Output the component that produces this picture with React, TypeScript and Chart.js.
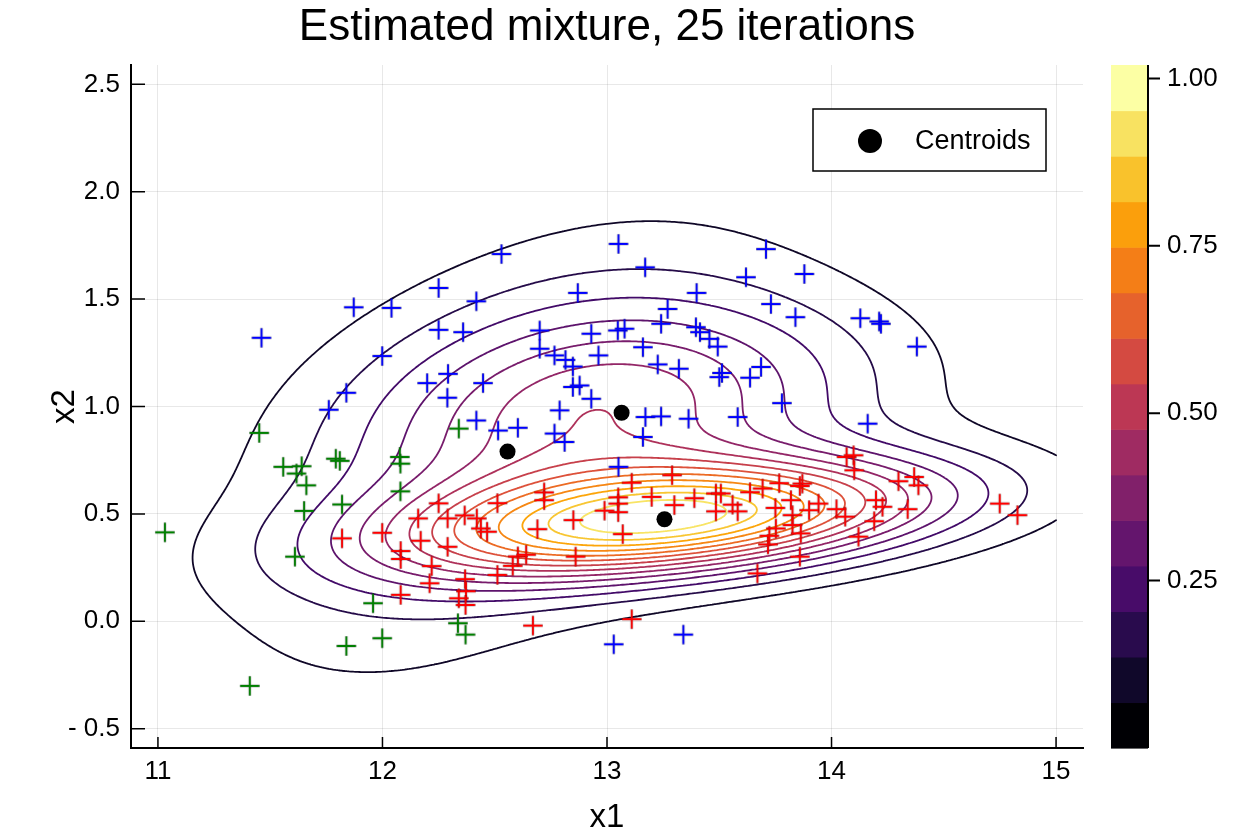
import React, { useEffect, useRef } from "react";
import { Chart, registerables } from "chart.js";

Chart.register(...registerables);

const FONT = '"Liberation Sans", Arial, Helvetica, sans-serif';

const titleText = "Estimated mixture, 25 iterations";
const xTitle = "x1";
const yTitle = "x2";
const legendLabel = "Centroids";

// axis ticks
const xTickValues = [11, 12, 13, 14, 15];
const yTickValues = [-0.5, 0, 0.5, 1.0, 1.5, 2.0, 2.5];
const colorbarTickValues = [0.25, 0.5, 0.75, 1.0];

// observations, grouped by class
const greenX = [11.031, 11.409, 11.451, 11.558, 11.640, 11.617, 11.661, 11.651, 11.610, 11.792, 11.810, 11.820, 11.958, 11.839, 11.999, 12.077, 12.080, 12.080, 12.336, 12.370, 12.340];
const greenY = [0.414, -0.301, 0.877, 0.719, 0.722, 0.688, 0.633, 0.514, 0.301, 0.757, 0.747, 0.544, 0.084, -0.115, -0.079, 0.765, 0.734, 0.605, -0.009, -0.062, 0.897];

const blueX = [11.461, 11.872, 12.040, 12.250, 12.418, 12.250, 12.359, 11.999, 12.292, 12.199, 12.448, 12.289, 11.839, 11.761, 12.418, 12.515, 12.530, 13.051, 13.170, 13.619, 12.870, 13.399, 13.270, 12.700, 12.930, 13.048, 13.078, 13.241, 13.396, 13.414, 13.456, 13.493, 12.700, 12.766, 12.815, 12.848, 12.962, 13.160, 13.226, 13.320, 13.512, 13.500, 13.637, 13.686, 12.848, 12.878, 12.930, 12.789, 12.603, 12.766, 12.811, 13.171, 13.241, 13.363, 13.582, 13.160, 13.051, 13.708, 13.879, 13.730, 13.839, 14.128, 14.212, 14.220, 14.380, 13.779, 14.161, 13.030, 13.340];
const blueY = [1.320, 1.462, 1.459, 1.552, 1.490, 1.357, 1.346, 1.235, 1.152, 1.109, 1.109, 1.041, 1.064, 0.985, 0.935, 0.888, 1.710, 1.757, 1.648, 1.602, 1.529, 1.529, 1.454, 1.354, 1.339, 1.354, 1.362, 1.385, 1.369, 1.346, 1.315, 1.279, 1.269, 1.238, 1.217, 1.186, 1.238, 1.276, 1.196, 1.176, 1.156, 1.137, 1.134, 1.184, 1.091, 1.098, 1.036, 0.982, 0.901, 0.874, 0.835, 0.951, 0.954, 0.943, 0.951, 0.858, 0.719, 1.733, 1.617, 1.477, 1.416, 1.411, 1.396, 1.385, 1.279, 1.016, 0.920, -0.107, -0.062];

const redX = [11.820, 11.999, 12.081, 12.081, 12.081, 12.159, 12.250, 12.290, 12.170, 12.290, 12.219, 12.210, 12.366, 12.420, 12.438, 12.466, 12.368, 12.372, 12.340, 12.370, 12.512, 12.512, 12.580, 12.603, 12.640, 12.720, 12.720, 12.690, 12.850, 12.860, 12.670, 13.110, 13.290, 13.050, 13.050, 13.050, 12.989, 13.199, 13.300, 13.070, 13.389, 13.485, 13.507, 13.485, 13.559, 13.582, 13.637, 13.693, 13.767, 13.750, 13.717, 13.670, 13.110, 14.067, 14.098, 14.101, 14.298, 14.368, 14.387, 14.339, 14.198, 14.227, 14.190, 14.120, 14.749, 14.828, 14.022, 14.061, 13.942, 13.900, 13.870, 13.859, 13.819, 13.826, 13.826, 13.863, 13.752, 13.723, 13.859];
const redY = [0.386, 0.412, 0.327, 0.290, 0.123, 0.479, 0.549, 0.479, 0.375, 0.347, 0.257, 0.177, 0.493, 0.479, 0.432, 0.417, 0.196, 0.140, 0.107, 0.076, 0.550, 0.216, 0.258, 0.302, 0.310, 0.600, 0.564, 0.429, 0.471, 0.301, -0.020, 0.645, 0.680, 0.577, 0.548, 0.508, 0.515, 0.579, 0.541, 0.406, 0.573, 0.595, 0.595, 0.512, 0.543, 0.512, 0.601, 0.618, 0.643, 0.528, 0.358, 0.223, 0.010, 0.765, 0.773, 0.703, 0.652, 0.672, 0.633, 0.522, 0.564, 0.533, 0.466, 0.394, 0.548, 0.494, 0.522, 0.487, 0.548, 0.517, 0.641, 0.630, 0.564, 0.494, 0.448, 0.409, 0.432, 0.398, 0.301];

// estimated centroids
const centroidX = [12.557, 13.065, 13.256];
const centroidY = [0.790, 0.971, 0.475];

// Gaussian components of the density surface
const compMeanX = [12.521, 13.162, 13.319];
const compMeanY = [0.782, 1.013, 0.477];
const compSdX = [0.793, 0.744, 0.796];
const compSdY = [0.691, 0.326, 0.183];
const compRho = [0.506, 0.193, 0.352];
const compPeak = [0.200, 0.310, 0.876];

// evaluation grid and colour range
const gridX0 = 11, gridX1 = 15, gridY0 = -0.5, gridY1 = 2.5, gridStep = 0.01;
const zMax = 1.02;
const nBands = 15;
const levelStep = zMax / nBands;

// inferno colour map stops
const infernoStops = ["#000004", "#160b39", "#420a68", "#6a176e", "#932667", "#bc3754", "#dd513a", "#f37819", "#fca50a", "#f6d746", "#fcffa4"];

function hexToRgb(h: string) {
  return [parseInt(h.slice(1, 3), 16), parseInt(h.slice(3, 5), 16), parseInt(h.slice(5, 7), 16)];
}

function inferno(t: number) {
  const tt = Math.max(0, Math.min(1, t)) * (infernoStops.length - 1);
  const i = Math.min(infernoStops.length - 2, Math.floor(tt));
  const f = tt - i;
  const a = hexToRgb(infernoStops[i]);
  const b = hexToRgb(infernoStops[i + 1]);
  const c = a.map((v, k) => Math.round(v + (b[k] - v) * f));
  return `rgb(${c[0]},${c[1]},${c[2]})`;
}

function mixtureDensity(x: number, y: number) {
  let s = 0;
  for (let k = 0; k < compMeanX.length; k++) {
    const zx = (x - compMeanX[k]) / compSdX[k];
    const zy = (y - compMeanY[k]) / compSdY[k];
    const r = compRho[k];
    const q = (zx * zx - 2 * r * zx * zy + zy * zy) / (1 - r * r);
    s += compPeak[k] * Math.exp(-q / 2);
  }
  return s;
}

const contourLevels: number[] = [];
for (let k = 1; k < nBands; k++) contourLevels.push(k * levelStep);

// marching squares: line segments [x0, y0, x1, y1, ...] for each level
function buildContours(): number[][] {
  const nx = Math.round((gridX1 - gridX0) / gridStep) + 1;
  const ny = Math.round((gridY1 - gridY0) / gridStep) + 1;
  const z = new Float64Array(nx * ny);
  for (let j = 0; j < ny; j++) {
    for (let i = 0; i < nx; i++) {
      z[j * nx + i] = mixtureDensity(gridX0 + i * gridStep, gridY0 + j * gridStep);
    }
  }
  const out: number[][] = [];
  for (const L of contourLevels) {
    const seg: number[] = [];
    for (let j = 0; j < ny - 1; j++) {
      for (let i = 0; i < nx - 1; i++) {
        const v00 = z[j * nx + i];
        const v10 = z[j * nx + i + 1];
        const v01 = z[(j + 1) * nx + i];
        const v11 = z[(j + 1) * nx + i + 1];
        const idx = (v00 > L ? 1 : 0) | (v10 > L ? 2 : 0) | (v11 > L ? 4 : 0) | (v01 > L ? 8 : 0);
        if (idx === 0 || idx === 15) continue;
        const x0 = gridX0 + i * gridStep;
        const y0 = gridY0 + j * gridStep;
        const x1 = x0 + gridStep;
        const y1 = y0 + gridStep;
        const edge = (k: number): [number, number] => {
          switch (k) {
            case 0: return [x0 + (gridStep * (L - v00)) / (v10 - v00), y0];
            case 1: return [x1, y0 + (gridStep * (L - v10)) / (v11 - v10)];
            case 2: return [x0 + (gridStep * (L - v01)) / (v11 - v01), y1];
            default: return [x0, y0 + (gridStep * (L - v00)) / (v01 - v00)];
          }
        };
        const add = (a: number, b: number) => {
          const p = edge(a);
          const q = edge(b);
          seg.push(p[0], p[1], q[0], q[1]);
        };
        const centreAbove = (v00 + v10 + v11 + v01) / 4 > L;
        switch (idx) {
          case 1: case 14: add(3, 0); break;
          case 2: case 13: add(0, 1); break;
          case 3: case 12: add(3, 1); break;
          case 4: case 11: add(1, 2); break;
          case 6: case 9: add(0, 2); break;
          case 7: case 8: add(3, 2); break;
          case 5:
            if (centreAbove) { add(3, 2); add(0, 1); } else { add(3, 0); add(1, 2); }
            break;
          case 10:
            if (centreAbove) { add(3, 0); add(1, 2); } else { add(0, 1); add(3, 2); }
            break;
        }
      }
    }
    out.push(seg);
  }
  return out;
}

// "+" marker with a thin dark edge
function crossImage(color: string) {
  const c = document.createElement("canvas");
  const s = 22;
  c.width = s;
  c.height = s;
  const g = c.getContext("2d")!;
  const h = s / 2;
  const arm = 9.5;
  g.strokeStyle = "rgba(0,0,0,0.55)";
  g.lineWidth = 2.4;
  g.beginPath();
  g.moveTo(h - arm - 0.3, h); g.lineTo(h + arm + 0.3, h);
  g.moveTo(h, h - arm - 0.3); g.lineTo(h, h + arm + 0.3);
  g.stroke();
  g.strokeStyle = color;
  g.lineWidth = 1.8;
  g.beginPath();
  g.moveTo(h - arm, h); g.lineTo(h + arm, h);
  g.moveTo(h, h - arm); g.lineTo(h, h + arm);
  g.stroke();
  return c;
}

function toPoints(xs: number[], ys: number[]) {
  return xs.map((x, i) => ({ x, y: ys[i] }));
}

function formatY(v: number) {
  return v < 0 ? "- " + Math.abs(v).toFixed(1) : v.toFixed(1);
}

export default function App() {
  const canvasRef = useRef<HTMLCanvasElement>(null);

  useEffect(() => {
    const canvas = canvasRef.current;
    if (!canvas) return;
    const segments = buildContours();

    const contourPlugin = {
      id: "mixtureContours",
      beforeDatasetsDraw(chart: any) {
        const { ctx, chartArea: a, scales } = chart;
        const sx = scales.x;
        const sy = scales.y;
        ctx.save();
        ctx.beginPath();
        ctx.rect(a.left, a.top, a.right - a.left, a.bottom - a.top);
        ctx.clip();
        ctx.lineWidth = 1.8;
        ctx.lineCap = "round";
        ctx.lineJoin = "round";
        segments.forEach((seg, li) => {
          ctx.strokeStyle = inferno(contourLevels[li] / zMax);
          ctx.beginPath();
          for (let j = 0; j < seg.length; j += 4) {
            ctx.moveTo(sx.getPixelForValue(seg[j]), sy.getPixelForValue(seg[j + 1]));
            ctx.lineTo(sx.getPixelForValue(seg[j + 2]), sy.getPixelForValue(seg[j + 3]));
          }
          ctx.stroke();
        });
        ctx.restore();
      },
    };

    const decorPlugin = {
      id: "decor",
      afterDraw(chart: any) {
        const { ctx, chartArea: a, scales } = chart;
        ctx.save();
        ctx.fillStyle = "#000";
        ctx.strokeStyle = "#000";

        // inward tick marks
        ctx.lineWidth = 1.5;
        ctx.beginPath();
        xTickValues.forEach((v) => {
          const px = scales.x.getPixelForValue(v);
          ctx.moveTo(px, a.bottom);
          ctx.lineTo(px, a.bottom - 11);
        });
        yTickValues.forEach((v) => {
          const py = scales.y.getPixelForValue(v);
          ctx.moveTo(a.left, py);
          ctx.lineTo(a.left + 14, py);
        });
        ctx.stroke();

        // title
        ctx.font = `44px ${FONT}`;
        ctx.textAlign = "center";
        ctx.textBaseline = "alphabetic";
        ctx.fillText(titleText, (a.left + a.right) / 2, 40);

        // axis titles
        ctx.font = `33px ${FONT}`;
        ctx.fillText(xTitle, (a.left + a.right) / 2, 827);
        ctx.save();
        ctx.translate(74, (a.top + a.bottom) / 2);
        ctx.rotate(-Math.PI / 2);
        ctx.fillText(yTitle, 0, 0);
        ctx.restore();

        // colour bar
        const cbX0 = 1111;
        const cbX1 = 1148;
        const vToPx = (v: number) => a.bottom - (v / zMax) * (a.bottom - a.top);
        for (let i = 0; i < nBands; i++) {
          const yTop = vToPx((i + 1) * levelStep);
          const yBot = vToPx(i * levelStep);
          ctx.fillStyle = inferno(i / (nBands - 1));
          ctx.fillRect(cbX0, yTop, cbX1 - cbX0, yBot - yTop + 0.6);
        }
        ctx.fillStyle = "#000";
        ctx.lineWidth = 2;
        ctx.beginPath();
        ctx.moveTo(cbX1, a.top);
        ctx.lineTo(cbX1, a.bottom);
        colorbarTickValues.forEach((v) => {
          const py = vToPx(v);
          ctx.moveTo(cbX1, py);
          ctx.lineTo(cbX1 + 12, py);
        });
        ctx.stroke();
        ctx.font = `26px ${FONT}`;
        ctx.textAlign = "left";
        ctx.textBaseline = "middle";
        colorbarTickValues.forEach((v) => {
          ctx.fillText(v.toFixed(2), cbX1 + 19, vToPx(v));
        });

        // legend
        ctx.fillStyle = "#fff";
        ctx.fillRect(813, 109, 233, 62);
        ctx.lineWidth = 1.5;
        ctx.strokeRect(813, 109, 233, 62);
        ctx.fillStyle = "#000";
        ctx.beginPath();
        ctx.arc(870, 141, 12, 0, Math.PI * 2);
        ctx.fill();
        ctx.font = `27px ${FONT}`;
        ctx.textAlign = "left";
        ctx.textBaseline = "middle";
        ctx.fillText(legendLabel, 915, 142);

        ctx.restore();
      },
    };

    const chart = new Chart(canvas, {
      type: "scatter",
      data: {
        datasets: [
          { label: "green", data: toPoints(greenX, greenY), pointStyle: crossImage("#008000") as any, pointRadius: 10 },
          { label: "blue", data: toPoints(blueX, blueY), pointStyle: crossImage("#0000ff") as any, pointRadius: 10 },
          { label: "red", data: toPoints(redX, redY), pointStyle: crossImage("#ff0000") as any, pointRadius: 10 },
          {
            label: legendLabel,
            data: toPoints(centroidX, centroidY),
            pointStyle: "circle",
            pointRadius: 8,
            backgroundColor: "#000",
            borderColor: "#000",
            borderWidth: 0,
          },
        ],
      },
      options: {
        responsive: false,
        animation: false,
        devicePixelRatio: 1,
        events: [],
        layout: { padding: { left: 0, right: 167, top: 65, bottom: 0 } },
        plugins: { legend: { display: false }, title: { display: false }, tooltip: { enabled: false } },
        scales: {
          x: {
            type: "linear",
            min: 10.88,
            max: 15.12,
            afterBuildTicks: (s: any) => { s.ticks = xTickValues.map((v) => ({ value: v })); },
            afterFit: (s: any) => { s.height = 86; },
            grid: { color: "rgba(0,0,0,0.09)", lineWidth: 1, drawTicks: false },
            border: { color: "#000", width: 2 },
            ticks: { color: "#000", font: { family: FONT, size: 26 }, padding: 8, autoSkip: false, maxRotation: 0, callback: (v: any) => String(v) },
          },
          y: {
            type: "linear",
            min: -0.59,
            max: 2.59,
            afterBuildTicks: (s: any) => { s.ticks = yTickValues.map((v) => ({ value: v })); },
            afterFit: (s: any) => { s.width = 131; },
            grid: { color: "rgba(0,0,0,0.09)", lineWidth: 1, drawTicks: false },
            border: { color: "#000", width: 2 },
            ticks: { color: "#000", font: { family: FONT, size: 26 }, padding: 11, autoSkip: false, callback: (v: any) => formatY(Number(v)) },
          },
        },
      },
      plugins: [contourPlugin, decorPlugin],
    });

    return () => chart.destroy();
  }, []);

  return (
    <div style={{ position: "absolute", left: 0, top: 0, width: 1250, height: 834, background: "#fff" }}>
      <canvas ref={canvasRef} width={1250} height={834} style={{ display: "block" }} />
    </div>
  );
}
